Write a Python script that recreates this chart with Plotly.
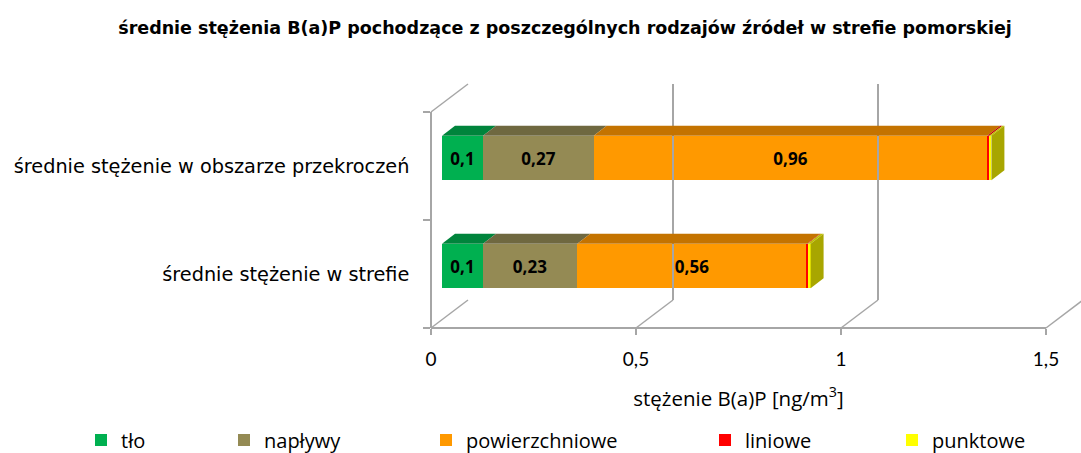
import plotly.graph_objects as go

# --- data -------------------------------------------------------------
categories = ["średnie stężenie w strefie", "średnie stężenie w obszarze przekroczeń"]
series_names = ["tło", "napływy", "powierzchniowe", "liniowe", "punktowe"]
tlo = [0.1, 0.1]
naplywy = [0.23, 0.27]
powierzchniowe = [0.56, 0.96]
liniowe = [0.002, 0.005]
punktowe = [0.007, 0.005]
x_ticks = [0, 0.5, 1, 1.5]

series_values = [tlo, naplywy, powierzchniowe, liniowe, punktowe]
labelled = [True, True, True, False, False]

# --- styling ----------------------------------------------------------
front_colors = ["#00B050", "#948A54", "#FF9900", "#FF0000", "#FFFF00"]
top_colors = ["#00843C", "#6F6840", "#C47300", "#BF0000", "#BFBF00"]
end_color = "#A8A600"
grid_color = "#A6A6A6"

W, H = 1081, 453
PPU = 410                      # pixels per unit of concentration
FRONT_X0, FRONT_BOTTOM, FRONT_TOP = 431, 328, 112
BACK_DX, BACK_DY = 37, -28     # offset of the back wall
BAR_DX, BAR_DY = 11, -8        # offset of the bar front faces
DEPTH_DX, DEPTH_DY = 13, -10   # bar depth
X_MAX = 1.5
BAR_W = 0.41


def px(x):
    return x / W


def py(y):
    return 1 - y / H


band = (FRONT_BOTTOM - FRONT_TOP) / len(categories)
ypos = list(range(len(categories)))

fig = go.Figure()

# stacked bars (front faces)
for i, (name, vals, col, lab) in enumerate(zip(series_names, series_values, front_colors, labelled)):
    fig.add_trace(go.Bar(
        x=vals, y=ypos, orientation="h", name=name, width=BAR_W,
        marker=dict(color=col, line=dict(width=0)),
        texttemplate="<b>%{x}</b>" if lab else None,
        textposition="inside" if lab else "none",
        insidetextanchor="middle",
        textfont=dict(family="Open Sans", size=17, color="black"),
        constraintext="none",
        xaxis="x", yaxis="y",
        legend="legend" if i == 0 else "legend%d" % (i + 1),
        hoverinfo="skip",
    ))

# depth of the bars: top faces and the end face
ddx = DEPTH_DX / PPU
ddy = -DEPTH_DY / band
shapes = []
for ci in ypos:
    start = 0.0
    top = ci + BAR_W / 2
    bot = ci - BAR_W / 2
    for si, vals in enumerate(series_values):
        end = start + vals[ci]
        shapes.append(dict(
            type="path", xref="x", yref="y", layer="above",
            path=f"M {start},{top} L {end},{top} L {end + ddx},{top + ddy} L {start + ddx},{top + ddy} Z",
            fillcolor=top_colors[si], line=dict(width=0)))
        start = end
    shapes.append(dict(
        type="path", xref="x", yref="y", layer="above",
        path=f"M {start},{bot} L {start},{top} L {start + ddx},{top + ddy} L {start + ddx},{bot + ddy} Z",
        fillcolor=end_color, line=dict(width=0)))


# wall / floor diagonals
def diag(x_front, y_front):
    return dict(type="line", xref="paper", yref="paper",
                x0=px(x_front), y0=py(y_front),
                x1=px(x_front + BACK_DX), y1=py(y_front + BACK_DY),
                line=dict(color=grid_color, width=1.5))


shapes.append(diag(FRONT_X0, FRONT_TOP))
for t in x_ticks:
    shapes.append(diag(FRONT_X0 + t * PPU, FRONT_BOTTOM))

# invisible helpers so the wall / floor axes get drawn
fig.add_trace(go.Scatter(x=[0, 0], y=categories, mode="markers", marker=dict(opacity=0),
                         xaxis="x2", yaxis="y2", showlegend=False, hoverinfo="skip"))
fig.add_trace(go.Scatter(x=[0], y=[0], mode="markers", marker=dict(opacity=0),
                         xaxis="x3", yaxis="y3", showlegend=False, hoverinfo="skip"))

back_x0 = FRONT_X0 + BACK_DX
back_xmax = (W - 2 - back_x0) / PPU

legend_left = [81, 224, 426, 705, 892]
legends = {}
for i, lx in enumerate(legend_left):
    key = "legend" if i == 0 else "legend%d" % (i + 1)
    legends[key] = dict(x=px(lx), y=py(440), xanchor="left", yanchor="middle",
                        orientation="h", bgcolor="rgba(0,0,0,0)",
                        font=dict(family="Open Sans", size=20, color="black"),
                        itemwidth=30, tracegroupgap=0)

fig.update_layout(
    width=W, height=H, autosize=False,
    margin=dict(l=0, r=0, t=0, b=0, autoexpand=False),
    paper_bgcolor="white", plot_bgcolor="rgba(0,0,0,0)",
    separators=", ",
    barmode="stack", bargap=0,
    showlegend=True,
    title=dict(text="<b>średnie stężenia B(a)P pochodzące z poszczególnych rodzajów źródeł w strefie pomorskiej</b>",
               x=px(565), xanchor="center", y=py(28), yanchor="middle",
               font=dict(family="DejaVu Sans", size=17.5, color="black")),
    # bars (front faces sit slightly behind the front plane)
    xaxis=dict(domain=[px(FRONT_X0 + BAR_DX), px(FRONT_X0 + BAR_DX + X_MAX * PPU)],
               range=[0, X_MAX], visible=False, fixedrange=True),
    yaxis=dict(domain=[py(FRONT_BOTTOM + BAR_DY), py(FRONT_TOP + BAR_DY)],
               range=[-0.5, len(categories) - 0.5], visible=False),
    # front floor edge with value ticks
    xaxis2=dict(domain=[px(FRONT_X0), px(FRONT_X0 + X_MAX * PPU)], range=[0, X_MAX],
                anchor="free", position=py(FRONT_BOTTOM),
                showline=True, linecolor=grid_color, linewidth=1.5,
                ticks="outside", ticklen=6, tickcolor=grid_color, tickwidth=1.5,
                tickvals=x_ticks, showgrid=False, zeroline=False,
                ticklabelstandoff=8,
                tickfont=dict(family="Lato", size=19, color="black"),
                title=dict(text="stężenie B(a)P [ng/m<sup>3</sup>]",
                           font=dict(family="Open Sans", size=20.5, color="black"), standoff=22)),
    # front edge of the side wall with category labels
    yaxis2=dict(domain=[py(FRONT_BOTTOM), py(FRONT_TOP)], type="category",
                categoryorder="array", categoryarray=categories,
                range=[-0.5, len(categories) - 0.5],
                anchor="free", position=px(FRONT_X0),
                showline=True, linecolor=grid_color, linewidth=1.5,
                ticks="outside", ticklen=7, tickcolor=grid_color, tickwidth=1.5,
                tickson="boundaries", showgrid=False, zeroline=False,
                ticklabelstandoff=17,
                tickfont=dict(family="DejaVu Sans", size=19.3, color="black")),
    # back wall gridlines
    xaxis3=dict(domain=[px(back_x0), px(back_x0 + back_xmax * PPU)], range=[0, back_xmax],
                anchor="y3", showgrid=True, gridcolor=grid_color, gridwidth=1.5,
                tickvals=x_ticks, showticklabels=False, ticks="", zeroline=False, showline=False),
    yaxis3=dict(domain=[py(FRONT_BOTTOM + BACK_DY), py(FRONT_TOP + BACK_DY)], range=[0, 1],
                anchor="x3", visible=False),
    shapes=shapes,
    **legends,
)

fig.write_html("out.html")
